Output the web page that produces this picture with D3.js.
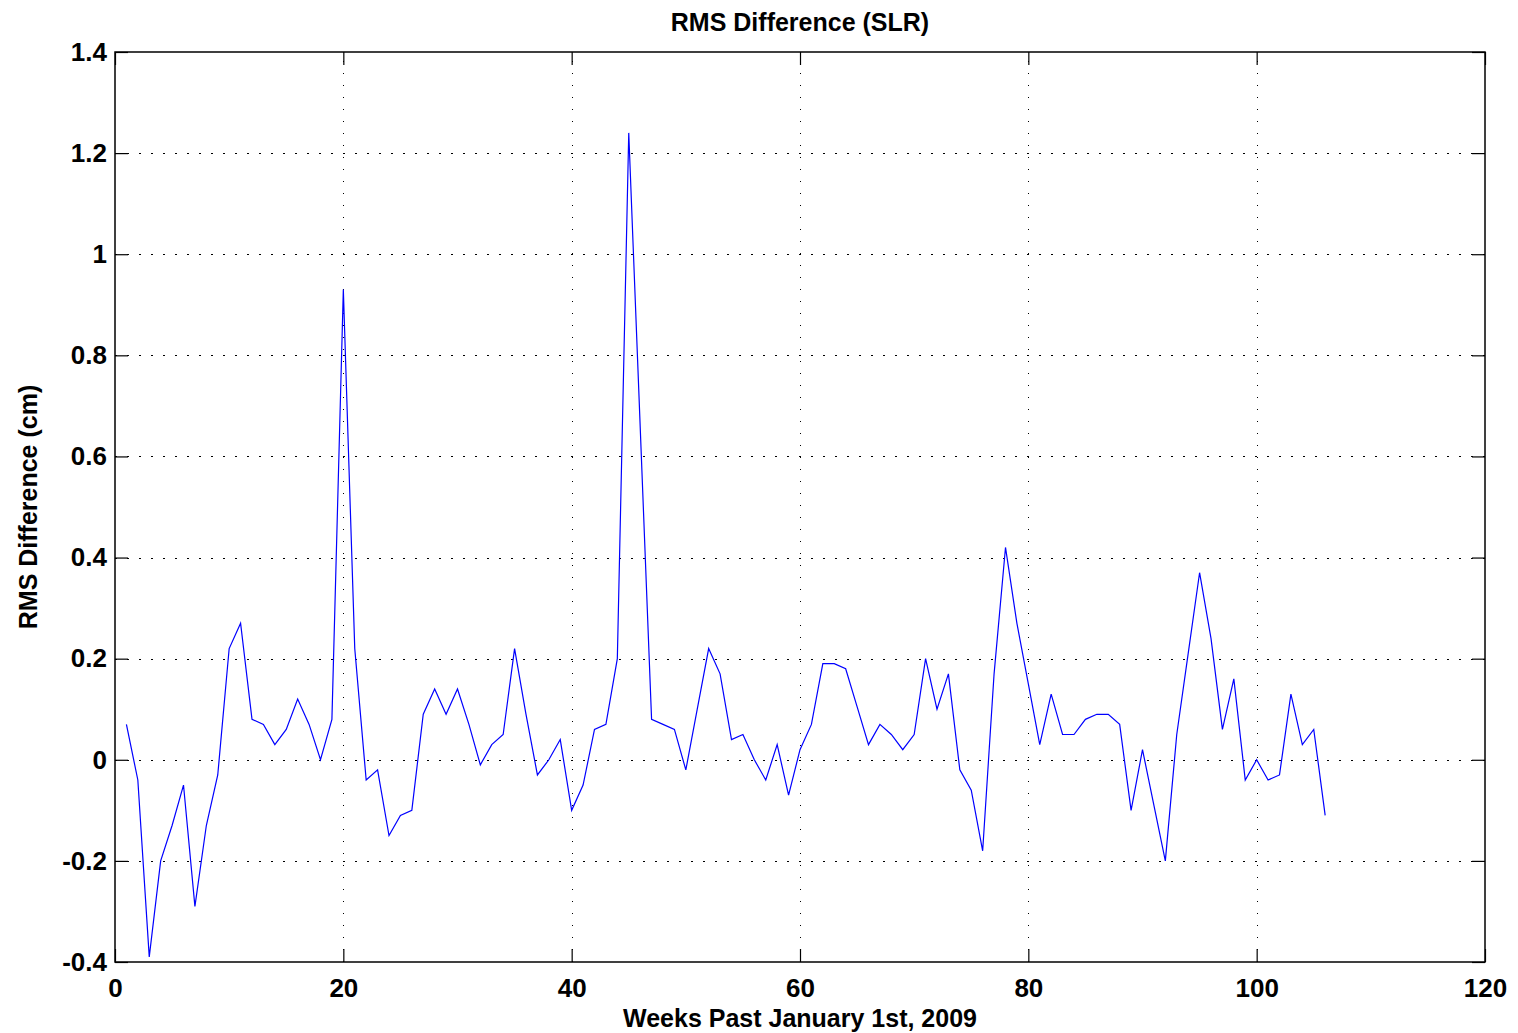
<!doctype html>
<html>
  <head>
    <meta charset="utf-8">
    <script src="https://cdn.jsdelivr.net/npm/d3@7"></script>
    <style>
      body, html {
        margin: 0;
        background: #fff;
      }
      svg {
        font-family: "Liberation Sans", Arial, sans-serif;
      }
      line.grid {
        stroke: #000;
        stroke-width: 1px;
        stroke-dasharray: 1.5,10.5;
        shape-rendering: crispEdges;
      }
      path.rms {
        fill: none;
        stroke: #0000ff;
        stroke-width: 1.2px;
      }
      .tick-label {
        font-size: 26px;
        font-weight: bold;
      }
    </style>
  </head>
  <body>
    <svg width="1518" height="1033"></svg>
    <script>

      var weeks = d3.range(1, 107);
      var rmsDiff = [
        0.07, -0.04, -0.39, -0.20, -0.13, -0.05, -0.29, -0.13, -0.03, 0.22,
        0.27, 0.08, 0.07, 0.03, 0.06, 0.12, 0.07, 0.00, 0.08, 0.93,
        0.22, -0.04, -0.02, -0.15, -0.11, -0.10, 0.09, 0.14, 0.09, 0.14,
        0.07, -0.01, 0.03, 0.05, 0.22, 0.09, -0.03, 0.00, 0.04, -0.10,
        -0.05, 0.06, 0.07, 0.20, 1.24, 0.66, 0.08, 0.07, 0.06, -0.02,
        0.10, 0.22, 0.17, 0.04, 0.05, 0.00, -0.04, 0.03, -0.07, 0.02,
        0.07, 0.19, 0.19, 0.18, 0.105, 0.03, 0.07, 0.05, 0.02, 0.05,
        0.20, 0.10, 0.17, -0.02, -0.06, -0.18, 0.17, 0.42, 0.27, 0.15,
        0.03, 0.13, 0.05, 0.05, 0.08, 0.09, 0.09, 0.07, -0.10, 0.02,
        -0.09, -0.20, 0.05, 0.21, 0.37, 0.24, 0.06, 0.16, -0.04, 0.00,
        -0.04, -0.03, 0.13, 0.03, 0.06, -0.11
      ];
      var xTicks = [0, 20, 40, 60, 80, 100, 120];
      var yTicks = [-0.4, -0.2, 0, 0.2, 0.4, 0.6, 0.8, 1, 1.2, 1.4];

      var pLeft = 115, pRight = 1485, pTop = 52, pBottom = 962;
      var svg = d3.select("svg");

      var x = d3.scaleLinear().domain([0, 120]).range([pLeft, pRight]);
      var y = d3.scaleLinear().domain([-0.4, 1.4]).range([pBottom, pTop]);

      // dotted grid
      svg.selectAll("line.gx").data(xTicks.slice(1, -1)).enter().append("line")
        .attr("class", "grid")
        .attr("x1", d => Math.round(x(d)) + 0.5).attr("x2", d => Math.round(x(d)) + 0.5)
        .attr("y1", pBottom).attr("y2", pTop);
      svg.selectAll("line.gy").data(yTicks.slice(1, -1)).enter().append("line")
        .attr("class", "grid")
        .attr("y1", d => Math.round(y(d)) + 0.5).attr("y2", d => Math.round(y(d)) + 0.5)
        .attr("x1", pLeft).attr("x2", pRight);

      // axes with inward ticks, mirrored on top/right
      var tickLen = 13;
      function axisStyle(g) {
        g.select(".domain").remove();
        g.selectAll(".tick line").attr("stroke", "#000").attr("stroke-width", 1.2);
        g.selectAll(".tick text").attr("class", "tick-label").attr("fill", "#000");
      }
      svg.append("g").attr("transform", "translate(0," + pBottom + ")")
        .call(d3.axisBottom(x).tickValues(xTicks).tickFormat(d => String(d))
          .tickSizeInner(-tickLen).tickSizeOuter(0).tickPadding(12))
        .call(axisStyle)
        .selectAll("text").attr("dy", "0.9em");
      svg.append("g").attr("transform", "translate(0," + pTop + ")")
        .call(d3.axisTop(x).tickValues(xTicks).tickFormat("").tickSizeInner(-tickLen).tickSizeOuter(0))
        .call(axisStyle);
      svg.append("g").attr("transform", "translate(" + pLeft + ",0)")
        .call(d3.axisLeft(y).tickValues(yTicks).tickFormat(d => String(+d.toFixed(1)))
          .tickSizeInner(-tickLen).tickSizeOuter(0).tickPadding(8))
        .call(axisStyle);
      svg.append("g").attr("transform", "translate(" + pRight + ",0)")
        .call(d3.axisRight(y).tickValues(yTicks).tickFormat("").tickSizeInner(-tickLen).tickSizeOuter(0))
        .call(axisStyle);

      // box
      svg.append("rect")
        .attr("x", pLeft).attr("y", pTop)
        .attr("width", pRight - pLeft).attr("height", pBottom - pTop)
        .attr("fill", "none").attr("stroke", "#000").attr("stroke-width", 1.5);

      // data line
      var line = d3.line().x((d, i) => x(weeks[i])).y(d => y(d));
      svg.append("path").datum(rmsDiff).attr("class", "rms").attr("d", line);

      // labels
      svg.append("text").attr("x", (pLeft + pRight) / 2).attr("y", 31)
        .attr("text-anchor", "middle").attr("font-size", 25).attr("font-weight", "bold")
        .text("RMS Difference (SLR)");
      svg.append("text").attr("x", 800).attr("y", 1027)
        .attr("text-anchor", "middle").attr("font-size", 25).attr("font-weight", "bold")
        .text("Weeks Past January 1st, 2009");
      svg.append("text")
        .attr("transform", "translate(37,507) rotate(-90)")
        .attr("text-anchor", "middle").attr("font-size", 25).attr("font-weight", "bold")
        .text("RMS Difference (cm)");
    </script>
  </body>
</html>
